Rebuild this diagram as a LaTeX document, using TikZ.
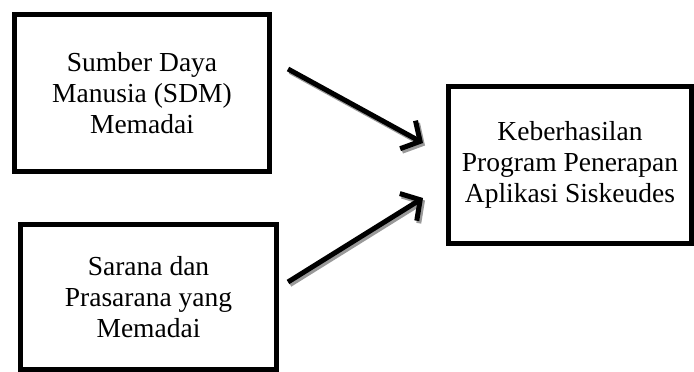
\documentclass[tikz,border=0pt]{standalone}
\usepackage{fontspec}
\setmainfont{Liberation Serif}
\usetikzlibrary{arrows.meta}
\begin{document}
\begin{tikzpicture}[x=1pt,y=-1pt,
  box/.style={draw=black, line width=5pt, rectangle, align=center, inner sep=0pt,
    font=\fontsize{27.5}{31}\selectfont},
  arr/.style={line width=5pt, -{Straight Barb[length=14pt,width=32pt]}},
  arrshadow/.style={arr, draw=black!40, transform canvas={xshift=2pt,yshift=-2.5pt}}]
\useasboundingbox (0,0) rectangle (694,372);
\node[box, minimum width=255pt, minimum height=157pt] (b1) at (142,93)
  {Sumber Daya\\Manusia (SDM)\\Memadai};
\node[box, minimum width=256pt, minimum height=145pt] (b2) at (148.5,297)
  {Sarana dan\\Prasarana yang\\Memadai};
\node[box, minimum width=243pt, minimum height=157pt] (b3) at (570,165)
  {Keberhasilan\\Program Penerapan\\Aplikasi Siskeudes};
\coordinate (a1s) at (288,69);
\coordinate (a1e) at (423,143);
\coordinate (a2s) at (288,282);
\coordinate (a2e) at (423,198);
\draw[arrshadow] (a1s) -- (a1e);
\draw[arrshadow] (a2s) -- (a2e);
\draw[arr] (a1s) -- (a1e);
\draw[arr] (a2s) -- (a2e);
\end{tikzpicture}
\end{document}
